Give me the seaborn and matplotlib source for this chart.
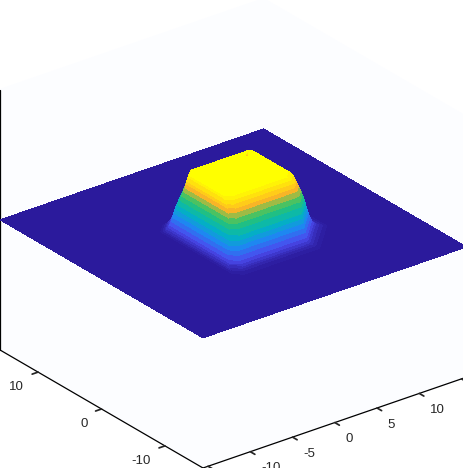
#!/usr/bin/env python3
"""Flat-topped mound on a flat sheet, seen from the -x,-y corner."""

import matplotlib
matplotlib.use("Agg")
import matplotlib.pyplot as plt
import numpy as np
import seaborn as sns
from mpl_toolkits.mplot3d import proj3d

# Contour rings of the mound: height, extent in x and y, and how much each
# corner is cut off (front = low x low y, left = low x high y, and so on)
ring_z = [0.000, 0.011, 0.021, 0.037, 0.053, 0.074, 0.106, 0.138, 0.170, 0.201, 0.233,
          0.265, 0.297, 0.329, 0.360, 0.392, 0.413, 0.435, 0.450, 0.461, 0.466, 0.466]
ring_x_lo = [-5.20, -5.10, -5.05, -5.00, -4.95, -4.90, -4.85, -4.75, -4.65, -4.50, -4.35,
             -4.15, -4.00, -3.85, -3.75, -3.70, -3.65, -3.60, -3.50, -2.90, -1.80, 0.80]
ring_x_hi = [7.90, 7.45, 7.05, 6.70, 6.45, 6.20, 6.00, 5.80, 5.65, 5.50, 5.40,
             5.30, 5.15, 5.00, 4.85, 4.70, 4.60, 4.55, 4.50, 4.20, 3.40, 0.80]
ring_y_lo = [-7.60, -7.35, -7.10, -6.90, -6.75, -6.60, -6.40, -6.25, -6.10, -5.95, -5.80,
             -5.55, -5.30, -5.05, -4.75, -4.50, -4.35, -4.10, -3.70, -3.10, -2.30, -0.10]
ring_y_hi = [5.50, 5.30, 5.15, 5.00, 4.85, 4.70, 4.55, 4.45, 4.35, 4.25, 4.15,
             4.05, 3.95, 3.85, 3.70, 3.55, 3.45, 3.35, 3.25, 2.90, 2.10, -0.10]
cut_front = [0.80, 0.80, 0.80, 0.80, 0.75, 0.70, 0.70, 0.65, 0.60, 0.60, 0.55,
             0.50, 0.50, 0.45, 0.40, 0.40, 0.40, 0.50, 0.60, 0.80, 0.80, 0.00]
cut_left = [1.00, 1.05, 1.10, 1.15, 1.20, 1.20, 1.20, 1.20, 1.20, 1.20, 1.20,
            1.20, 1.15, 1.10, 1.10, 1.05, 1.00, 1.00, 1.00, 1.00, 1.00, 0.00]
cut_right = [3.40, 3.25, 3.05, 2.85, 2.70, 2.50, 2.30, 2.15, 2.00, 1.85, 1.70,
             1.50, 1.30, 1.10, 0.95, 0.85, 0.75, 0.70, 0.90, 0.90, 0.80, 0.00]
cut_back = [1.00, 1.00, 1.00, 1.00, 0.90, 0.90, 0.90, 0.80, 0.80, 0.70, 0.70,
            0.60, 0.60, 0.50, 0.50, 0.40, 0.40, 0.30, 0.30, 0.40, 0.50, 0.00]

x_limits = [-15.6, 15.6]
y_limits = [-16.0, 16.0]
z_limits = [-1.0, 1.0]
x_ticks = [-15, -10, -5, 0, 5, 10, 15]
y_ticks = [-10, 0, 10]

COLORS = ["#2b1a9c", "#4a4cee", "#1f86f2", "#00b4c0", "#2cc46c", "#ffb424", "#ffff00"]
BG = "#fefef9"
PANE = "#fcfdff"
INK = "#262626"

sns.set_theme(style="white", font="Liberation Sans")
plt.rcParams["axes.unicode_minus"] = False
cmap = sns.blend_palette(COLORS, as_cmap=True)

fig = plt.figure(figsize=(4.64, 4.68), dpi=100, facecolor=BG)
ax = fig.add_axes([-0.15, -0.15, 1.3, 1.3], projection="3d", computed_zorder=False)
ax.set_proj_type("ortho")
ax.view_init(elev=26.6, azim=232.4)
ax.set_box_aspect((32, 32, 28))
ax.set_xlim(*x_limits, view_margin=0)
ax.set_ylim(*y_limits, view_margin=0)
ax.set_zlim(*z_limits, view_margin=0)

# sheet
sx, sy = np.meshgrid(x_limits, y_limits)
ax.plot_surface(sx, sy, np.zeros_like(sx), color=COLORS[0], shade=False,
                linewidth=0, antialiased=False, zorder=1)

# mound, ring by ring
lo, hi = np.array(ring_x_lo), np.array(ring_x_hi)
ylo, yhi = np.array(ring_y_lo), np.array(ring_y_hi)
cf, cl = np.array(cut_front), np.array(cut_left)
cr, cb = np.array(cut_right), np.array(cut_back)
X = np.stack([lo + cf, hi - cr, hi, hi, hi - cb, lo + cl, lo, lo, lo + cf], axis=1)
Y = np.stack([ylo, ylo, ylo + cr, yhi - cb, yhi, yhi, yhi - cl, ylo + cf, ylo], axis=1)
Z = np.repeat(np.array(ring_z)[:, None], 9, axis=1)
ax.plot_surface(X, Y, Z, cmap=cmap, vmin=0, vmax=0.455, rstride=1, cstride=1,
                shade=False, linewidth=0, antialiased=False, zorder=2)

for axis in (ax.xaxis, ax.yaxis, ax.zaxis):
    axis.set_pane_color(PANE)
    axis.pane.set_edgecolor(PANE)
    axis.line.set_color("black")
    axis.line.set_linewidth(0.9)
    axis._axinfo["tick"]["inward_factor"] = 0.28
    axis._axinfo["tick"]["outward_factor"] = 0.0
ax.grid(False)
ax.set_xticks(x_ticks)
ax.set_yticks(y_ticks)
ax.set_zticks([])
ax.tick_params(labelsize=9.5, colors=INK, pad=2.5, width=0.8)
plt.setp(ax.get_xticklabels(), ha="left", va="baseline")
plt.setp(ax.get_yticklabels(), ha="right", va="baseline")


def corner_px(x, y, z):
    px, py, _ = proj3d.proj_transform(x, y, z, ax.get_proj())
    return ax.transData.transform((px, py))


# fit the box so its floor corners land where the chart has them
W, H = 464, 468
for _ in range(4):
    fig.canvas.draw()
    bottom = corner_px(x_limits[0], y_limits[0], z_limits[0])
    left = corner_px(x_limits[0], y_limits[1], z_limits[0])
    pos = ax.get_position(original=True)
    side = pos.width * W * (203.0 / (bottom[0] - left[0]))
    cx = pos.x0 * W + pos.width * W / 2
    cy = pos.y0 * H + pos.height * H / 2
    ax.set_position([(cx - side / 2) / W, (cy - side / 2) / H, side / W, side / H])
    fig.canvas.draw()
    bottom = corner_px(x_limits[0], y_limits[0], z_limits[0])
    pos = ax.get_position(original=True)
    ax.set_position([pos.x0 + (203.0 - bottom[0]) / W, pos.y0 + (0.0 - bottom[1]) / H,
                     pos.width, pos.height])

fig.savefig("out.png", dpi=100, facecolor=BG)
